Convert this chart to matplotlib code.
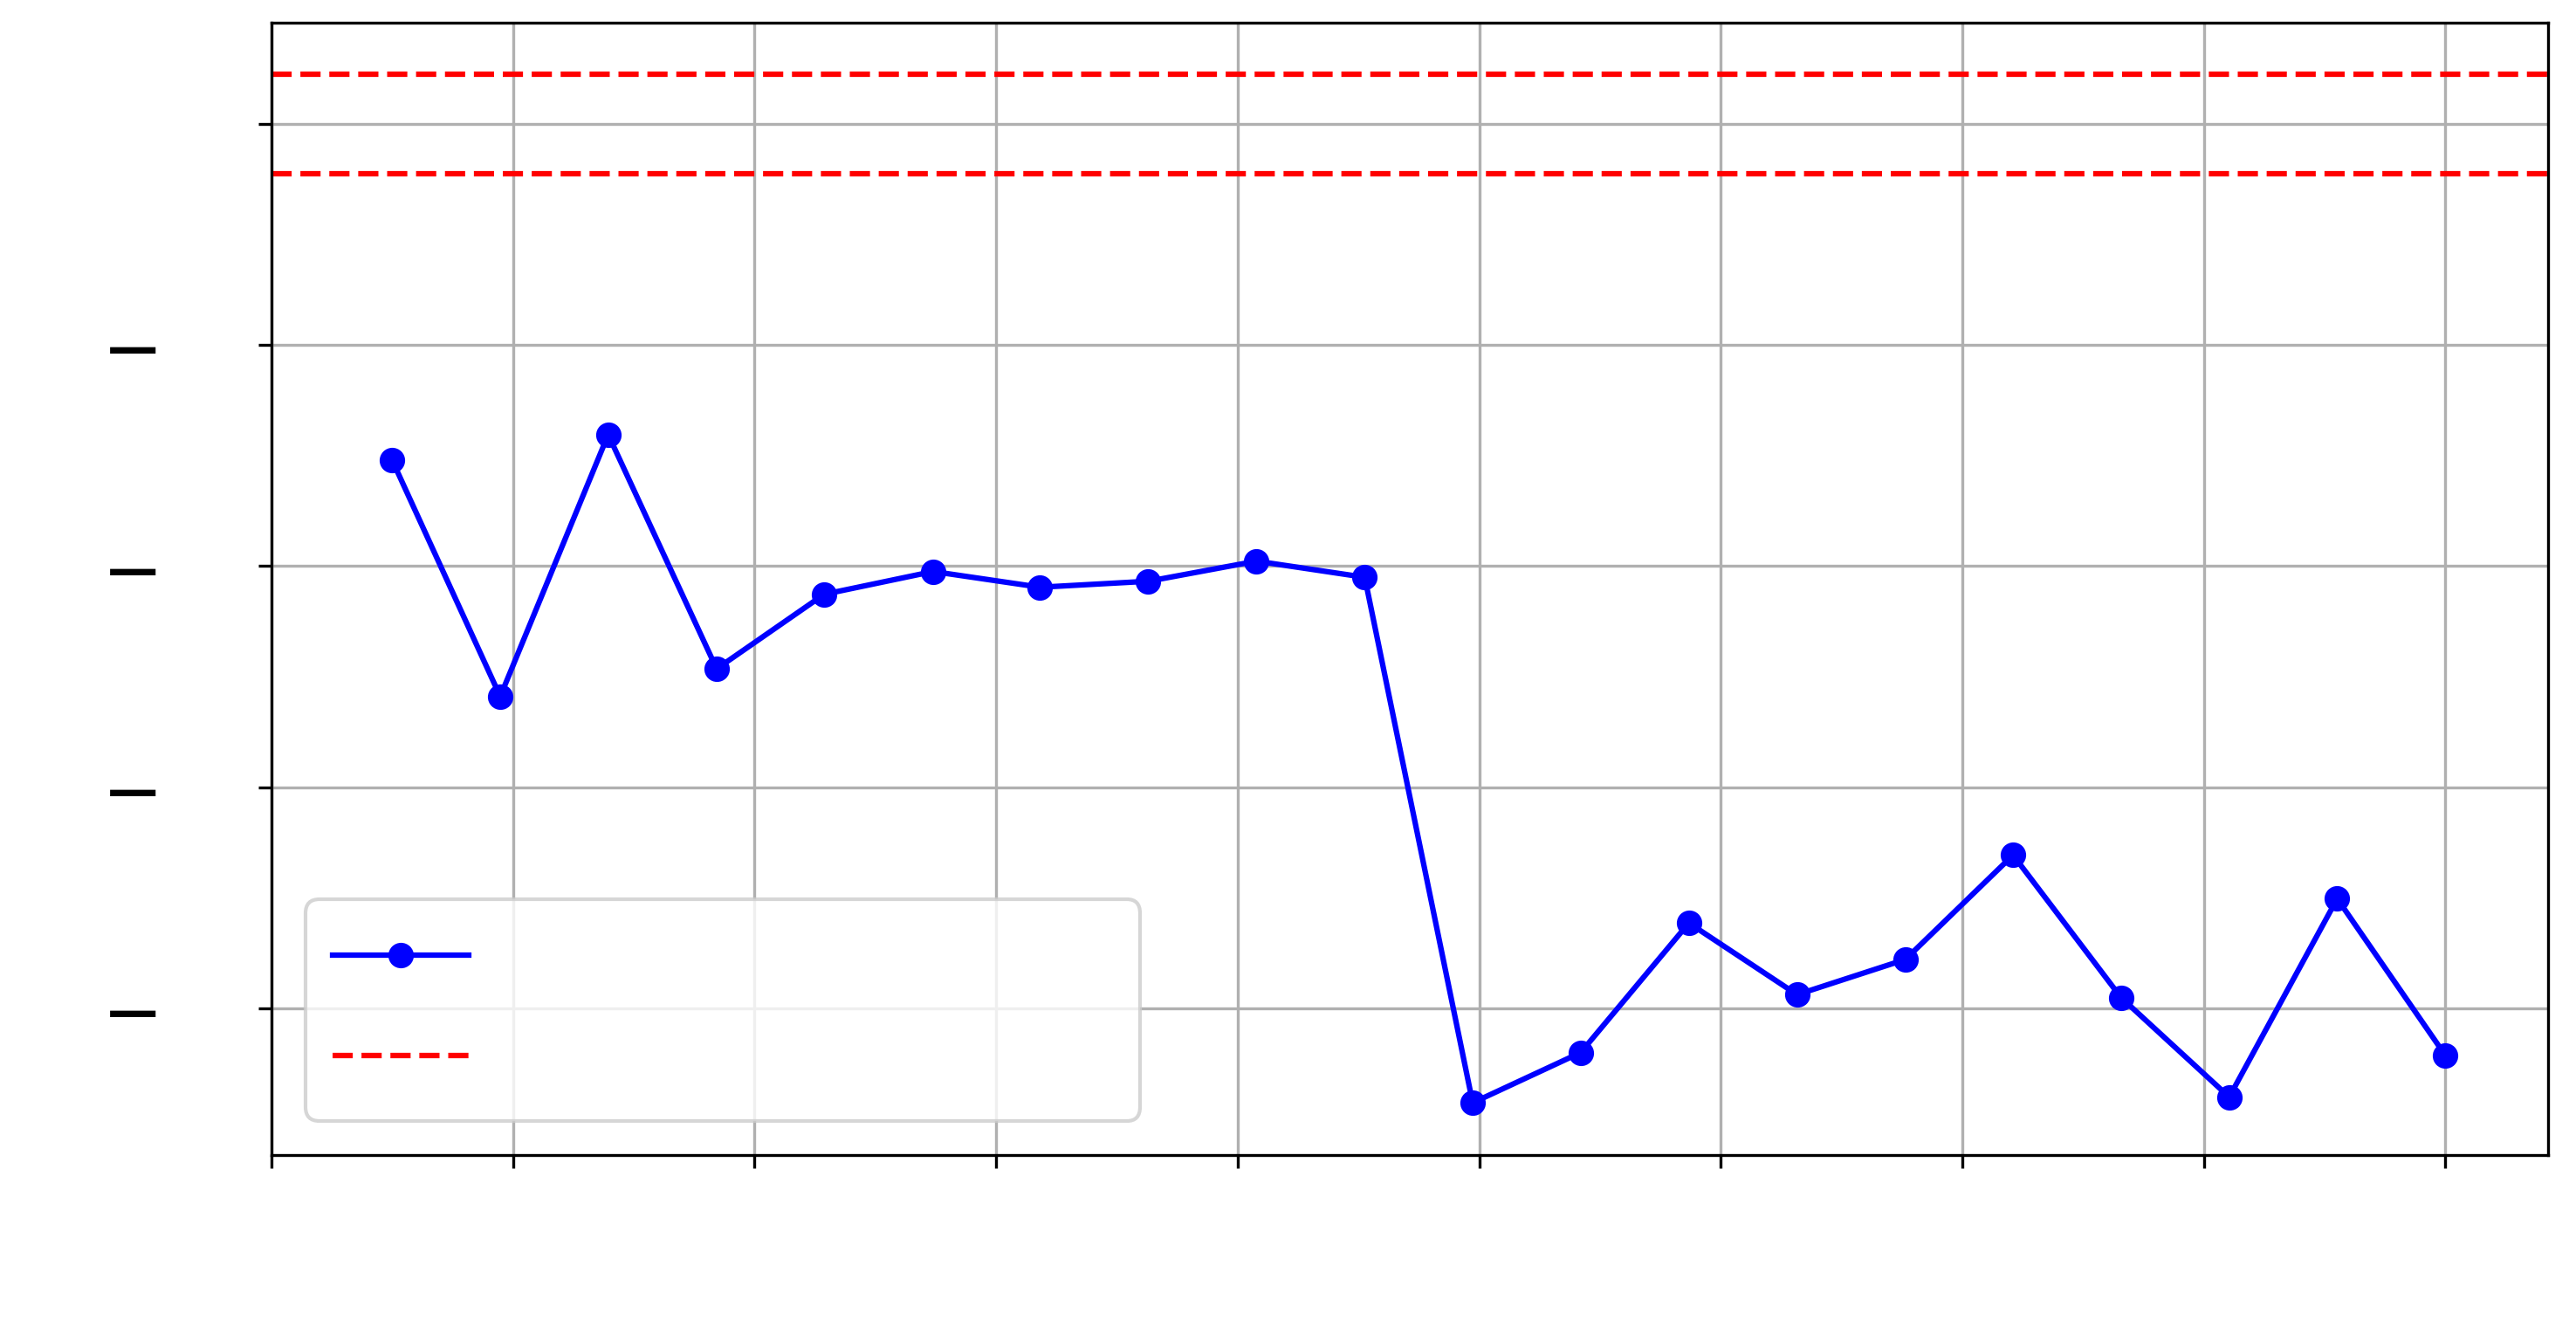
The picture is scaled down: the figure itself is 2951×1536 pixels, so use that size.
import matplotlib
matplotlib.use("Agg")
import matplotlib.pyplot as plt

# ---- data ----
x_vals = [0.499, 0.947, 1.394, 1.843, 2.288, 2.739, 3.182, 3.630, 4.078, 4.526,
          4.973, 5.420, 5.868, 6.316, 6.764, 7.210, 7.657, 8.105, 8.552, 9.000]
y_vals = [-1.520, -2.590, -1.406, -2.465, -2.128, -2.025, -2.096, -2.069, -1.978, -2.051,
          -4.427, -4.200, -3.614, -3.938, -3.779, -3.307, -3.951, -4.401, -3.504, -4.213]
limit_upper = 0.225
limit_lower = -0.225

x_ticks = [0, 1, 2, 3, 4, 5, 6, 7, 8, 9]
x_tick_labels = ["", "", "", "", "", "", "", "", "", ""]
y_ticks = [0, -1, -2, -3, -4]
y_tick_labels = ["", "\u2014", "\u2014", "\u2014", "\u2014"]
legend_labels = ["", ""]

# ---- figure ----
W, H, DPI = 2951, 1536, 300
fig = plt.figure(figsize=(W / DPI, H / DPI), dpi=DPI)
ax = fig.add_axes([311 / W, (H - 1322.7) / H, (2919 - 311) / W, (1322.7 - 25.7) / H])

line, = ax.plot(x_vals, y_vals, color="blue", marker="o", linestyle="-",
                linewidth=1.5, markersize=6)
h1 = ax.axhline(limit_upper, color="red", linestyle="--", linewidth=1.5)
ax.axhline(limit_lower, color="red", linestyle="--", linewidth=1.5)

ax.set_xlim(0, 9.425)
ax.set_ylim(-4.662, 0.4575)
ax.set_xticks(x_ticks, labels=x_tick_labels)
ax.set_yticks(y_ticks, labels=y_tick_labels, fontsize=14, fontweight="bold")
ax.tick_params(axis="y", pad=27.7)
ax.grid(True)

ax.legend(handles=[line, h1], labels=legend_labels, loc="lower left",
          bbox_to_anchor=(0, 0, 0.3965, 1), mode="expand", fontsize=18.7)

fig.savefig("out.png", dpi=DPI)
